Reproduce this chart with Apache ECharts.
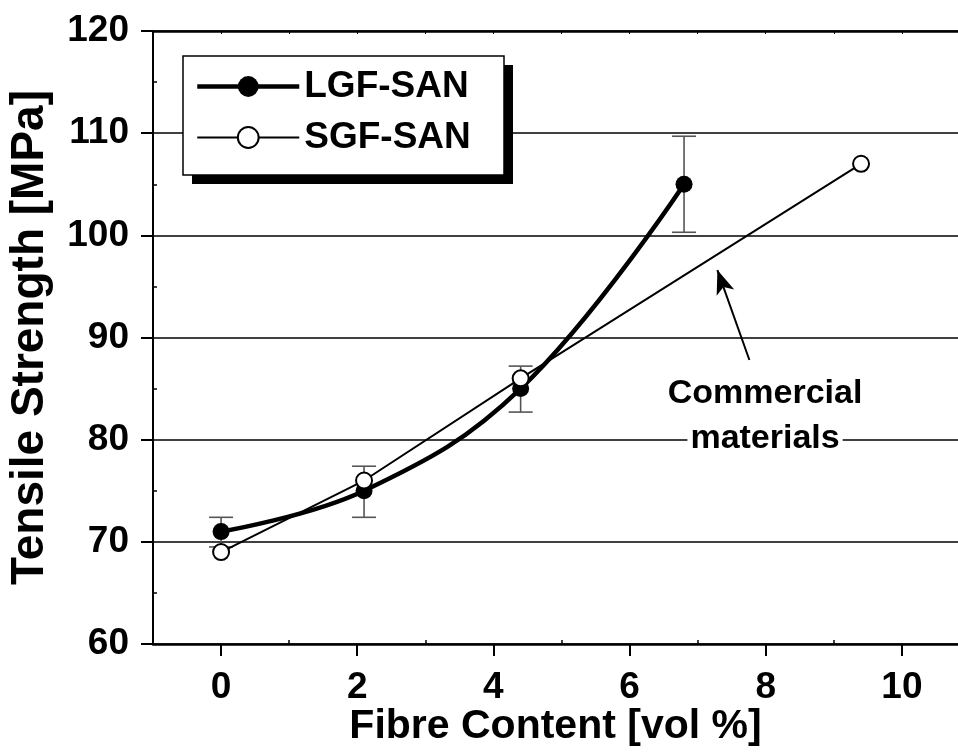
<!DOCTYPE html>
<html><head><meta charset="utf-8">
<script src="https://cdn.jsdelivr.net/npm/echarts@6/dist/echarts.min.js"></script>
<style>html,body{margin:0;padding:0;background:#fff}#c{width:958px;height:756px}</style>
</head><body><div id="c"></div>
<script>
// ---- data ----
const lgfX = [0, 2.1, 4.4, 6.8];
const lgfY = [71, 75, 85, 105];
const lgfLow = [69.5, 72.4, 82.7, 100.3];
const lgfHigh = [72.4, 77.4, 87.2, 109.7];
const sgfX = [0, 2.1, 4.4, 9.4];
const sgfY = [69, 76, 86, 107];
const xTicks = [0, 2, 4, 6, 8, 10];
const xMinor = [1, 3, 5, 7, 9];
const xTopTicks = [0, 1, 2, 3, 4, 5, 6, 7, 8, 9, 10];
const yMinor = [65, 75, 85, 95, 105, 115];
const seriesNames = ['LGF-SAN', 'SGF-SAN'];
const noteText = ['Commercial', 'materials'];
const arrowFrom = [7.76, 87.8];
const arrowTo = [7.29, 96.6];
const notePos = [7.99, 82.3];

const FONT = "'Liberation Sans', Arial, Helvetica, sans-serif";
const XMIN = -1, XMAX = 10.824;

const chart = echarts.init(document.getElementById('c'), null, {renderer: 'canvas'});

const option = {
  animation: false,
  backgroundColor: '#fff',
  grid: {left: 153, top: 31, right: 0, bottom: 112, outerBoundsMode: 'none'},
  graphic: [
    {type: 'rect', z: 1, silent: true, shape: {x: 192, y: 65, width: 321, height: 119}, style: {fill: '#000'}},
    {type: 'rect', z: 1, silent: true, shape: {x: 183, y: 56, width: 321, height: 119}, style: {fill: '#fff', stroke: '#000', lineWidth: 1.5}}
  ],
  legend: {
    data: [
      {name: seriesNames[0], lineStyle: {width: 4.5, color: '#000'}, itemStyle: {color: '#000'}},
      {name: seriesNames[1], lineStyle: {width: 2, color: '#000'}, itemStyle: {color: '#fff', borderColor: '#000', borderWidth: 2}}
    ],
    orient: 'vertical',
    left: 183, top: 56,
    itemWidth: 102, itemHeight: 26, itemGap: 14,
    padding: [12, 30, 12, 12],
    z: 5,
    selectedMode: false,
    textStyle: {fontSize: 37, fontWeight: 'bold', color: '#000', fontFamily: FONT}
  },
  xAxis: [
    {
      type: 'value', position: 'bottom', min: XMIN, max: XMAX,
      axisLine: {show: true, onZero: false, lineStyle: {color: '#000', width: 2.5}},
      axisTick: {show: true, customValues: xTicks, length: 12, lineStyle: {color: '#000', width: 2}},
      axisLabel: {customValues: xTicks, margin: 25, fontSize: 37, fontWeight: 'bold', color: '#000', fontFamily: FONT},
      splitLine: {show: false},
      name: 'Fibre Content [vol %]', nameLocation: 'middle', nameGap: 62, nameMoveOverlap: false,
      nameTextStyle: {fontSize: 41, fontWeight: 'bold', color: '#000', fontFamily: FONT}
    },
    {
      type: 'value', position: 'bottom', min: XMIN, max: XMAX,
      axisLine: {show: false, onZero: false},
      axisTick: {show: true, customValues: xMinor, inside: true, length: 4, lineStyle: {color: '#000', width: 1.5}},
      axisLabel: {show: false}, splitLine: {show: false}
    },
    {
      type: 'value', position: 'top', min: XMIN, max: XMAX,
      axisLine: {show: true, onZero: false, lineStyle: {color: '#000', width: 2.5}},
      axisTick: {show: true, customValues: xTopTicks, inside: true, length: 3, lineStyle: {color: '#000', width: 1}},
      axisLabel: {show: false}, splitLine: {show: false}
    }
  ],
  yAxis: [
    {
      type: 'value', position: 'left', min: 60, max: 120, interval: 10,
      axisLine: {show: true, onZero: false, lineStyle: {color: '#000', width: 2}},
      axisTick: {show: true, length: 12, lineStyle: {color: '#000', width: 2}},
      axisLabel: {margin: 24, fontSize: 37, fontWeight: 'bold', color: '#000', fontFamily: FONT},
      splitLine: {show: true, lineStyle: {color: '#000', width: 1.5}},
      name: 'Tensile Strength [MPa]', nameLocation: 'middle', nameGap: 100, nameRotate: 90, nameMoveOverlap: false,
      nameTextStyle: {fontSize: 46, fontWeight: 'bold', color: '#000', fontFamily: FONT}
    },
    {
      type: 'value', position: 'left', min: 60, max: 120,
      axisLine: {show: false, onZero: false},
      axisTick: {show: true, customValues: yMinor, inside: true, length: 4, lineStyle: {color: '#000', width: 1.5}},
      axisLabel: {show: false}, splitLine: {show: false}
    }
  ],
  series: [
    {
      type: 'custom', name: 'err', z: 1, silent: true,
      xAxisIndex: 0, yAxisIndex: 0,
      data: lgfX.map((x, i) => [x, lgfLow[i], lgfHigh[i]]),
      encode: {x: 0, y: [1, 2]},
      renderItem: function (params, api) {
        const x = api.value(0);
        const lo = api.coord([x, api.value(1)]);
        const hi = api.coord([x, api.value(2)]);
        const w = 12;
        const st = {stroke: '#555', lineWidth: 1.6};
        return {
          type: 'group',
          children: [
            {type: 'line', shape: {x1: lo[0], y1: lo[1], x2: hi[0], y2: hi[1]}, style: st},
            {type: 'line', shape: {x1: hi[0] - w, y1: hi[1], x2: hi[0] + w, y2: hi[1]}, style: st},
            {type: 'line', shape: {x1: lo[0] - w, y1: lo[1], x2: lo[0] + w, y2: lo[1]}, style: st}
          ]
        };
      }
    },
    {
      type: 'line', name: seriesNames[0], z: 2,
      xAxisIndex: 0, yAxisIndex: 0,
      data: lgfX.map((x, i) => [x, lgfY[i]]),
      smooth: 0.4,
      symbol: 'circle', symbolSize: 17,
      itemStyle: {color: '#000'},
      lineStyle: {color: '#000', width: 4.5},
      emphasis: {disabled: true}
    },
    {
      type: 'line', name: seriesNames[1], z: 3,
      xAxisIndex: 0, yAxisIndex: 0,
      data: sgfX.map((x, i) => [x, sgfY[i]]),
      symbol: 'circle', symbolSize: 16,
      itemStyle: {color: '#fff', borderColor: '#000', borderWidth: 2},
      lineStyle: {color: '#000', width: 2},
      emphasis: {disabled: true},
      markLine: {
        silent: true,
        symbol: ['none', 'arrow'],
        symbolSize: 18,
        label: {show: false},
        lineStyle: {color: '#000', width: 2, type: 'solid'},
        emphasis: {disabled: true},
        data: [[{coord: arrowFrom, symbol: 'none'}, {coord: arrowTo, symbol: 'arrow', symbolSize: [14, 24]}]]
      },
      markPoint: {
        silent: true,
        symbol: 'circle', symbolSize: 1,
        itemStyle: {color: 'rgba(0,0,0,0)'},
        label: {
          show: true, position: 'inside',
          formatter: '{a|' + noteText[0] + '}\n{b|' + noteText[1] + '}',
          rich: {
            a: {fontSize: 34, fontWeight: 'bold', color: '#000', fontFamily: FONT, lineHeight: 45},
            b: {fontSize: 34, fontWeight: 'bold', color: '#000', fontFamily: FONT, lineHeight: 45, backgroundColor: '#fff', padding: [0, 3]}
          }
        },
        data: [{coord: notePos}]
      }
    }
  ]
};
chart.setOption(option);
</script>
</body></html>
